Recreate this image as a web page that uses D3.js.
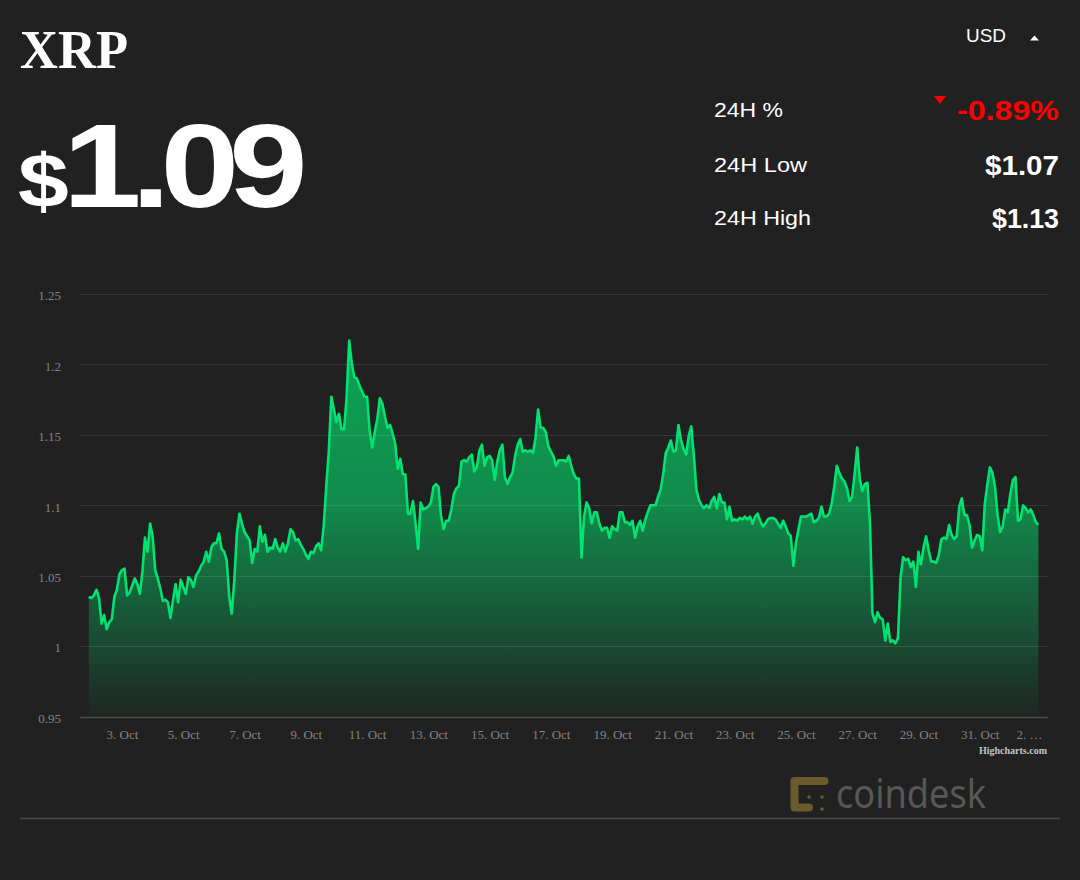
<!DOCTYPE html>
<html>
<head>
<meta charset="utf-8">
<script src="https://cdn.jsdelivr.net/npm/d3@7"></script>
<style>
  body { margin: 0; background: #212121; }
  svg { display: block; }
</style>
</head>
<body>
<div id="chart"></div>
<script>
const width = 1080;
const height = 880;
const plot = { left: 80, right: 1048, top: 294, bottom: 716.5 };

// XRP / USD, one reading every 2 hours from 1 Oct 22:00 UTC
const start_time = Date.UTC(2021, 9, 1, 22);
const step_hours = 2;
const prices = [
  1.035, 1.034, 1.036, 1.040, 1.034, 1.016, 1.022, 1.012, 1.017, 1.019,
  1.035, 1.040, 1.051, 1.054, 1.055, 1.036, 1.038, 1.043, 1.048, 1.044,
  1.037, 1.053, 1.077, 1.067, 1.087, 1.078, 1.054, 1.048, 1.041, 1.032,
  1.033, 1.031, 1.020, 1.033, 1.044, 1.031, 1.047, 1.042, 1.037, 1.049,
  1.047, 1.042, 1.050, 1.053, 1.057, 1.060, 1.067, 1.060, 1.070, 1.073,
  1.073, 1.080, 1.069, 1.067, 1.061, 1.035, 1.023, 1.047, 1.080, 1.094,
  1.087, 1.081, 1.078, 1.075, 1.059, 1.069, 1.067, 1.085, 1.074, 1.079,
  1.067, 1.070, 1.069, 1.076, 1.070, 1.067, 1.073, 1.067, 1.073, 1.083,
  1.081, 1.075, 1.076, 1.072, 1.069, 1.065, 1.062, 1.067, 1.066, 1.071,
  1.073, 1.068, 1.085, 1.113, 1.138, 1.177, 1.168, 1.159, 1.165, 1.154,
  1.154, 1.177, 1.217, 1.201, 1.191, 1.190, 1.185, 1.181, 1.177, 1.177,
  1.153, 1.141, 1.152, 1.161, 1.176, 1.172, 1.163, 1.155, 1.157, 1.151,
  1.144, 1.126, 1.133, 1.122, 1.122, 1.094, 1.094, 1.103, 1.087, 1.069,
  1.102, 1.097, 1.098, 1.099, 1.102, 1.113, 1.115, 1.113, 1.092, 1.083,
  1.089, 1.089, 1.097, 1.108, 1.112, 1.114, 1.131, 1.132, 1.131, 1.134,
  1.136, 1.124, 1.127, 1.139, 1.143, 1.128, 1.134, 1.135, 1.132, 1.118,
  1.131, 1.139, 1.143, 1.120, 1.115, 1.120, 1.123, 1.135, 1.143, 1.147,
  1.138, 1.139, 1.138, 1.139, 1.137, 1.148, 1.168, 1.155, 1.155, 1.152,
  1.142, 1.138, 1.135, 1.128, 1.132, 1.132, 1.132, 1.131, 1.135, 1.128,
  1.122, 1.119, 1.119, 1.063, 1.092, 1.102, 1.098, 1.087, 1.095, 1.095,
  1.087, 1.082, 1.084, 1.084, 1.077, 1.085, 1.083, 1.082, 1.095, 1.095,
  1.088, 1.088, 1.086, 1.089, 1.077, 1.085, 1.089, 1.082, 1.090, 1.095,
  1.100, 1.100, 1.100, 1.106, 1.111, 1.122, 1.137, 1.141, 1.146, 1.138,
  1.139, 1.157, 1.146, 1.140, 1.136, 1.149, 1.156, 1.136, 1.111, 1.104,
  1.100, 1.098, 1.100, 1.098, 1.103, 1.106, 1.098, 1.108, 1.102, 1.102,
  1.090, 1.099, 1.089, 1.090, 1.089, 1.091, 1.090, 1.092, 1.090, 1.092,
  1.087, 1.092, 1.094, 1.089, 1.085, 1.087, 1.090, 1.091, 1.091, 1.090,
  1.087, 1.084, 1.089, 1.085, 1.080, 1.078, 1.057, 1.073, 1.083, 1.092,
  1.092, 1.092, 1.093, 1.094, 1.088, 1.089, 1.091, 1.099, 1.092, 1.092,
  1.094, 1.101, 1.113, 1.128, 1.123, 1.119, 1.117, 1.112, 1.103, 1.106,
  1.122, 1.141, 1.119, 1.110, 1.115, 1.116, 1.088, 1.023, 1.017, 1.024,
  1.020, 1.019, 1.004, 1.016, 1.003, 1.004, 1.002, 1.006, 1.049, 1.063,
  1.061, 1.062, 1.056, 1.060, 1.042, 1.067, 1.058, 1.070, 1.078, 1.068,
  1.060, 1.060, 1.059, 1.065, 1.076, 1.077, 1.076, 1.086, 1.079, 1.076,
  1.078, 1.099, 1.105, 1.093, 1.093, 1.086, 1.070, 1.075, 1.079, 1.078,
  1.068, 1.101, 1.115, 1.127, 1.123, 1.113, 1.093, 1.081, 1.085, 1.097,
  1.095, 1.108, 1.118, 1.120, 1.089, 1.090, 1.100, 1.098, 1.095, 1.097,
  1.093, 1.088, 1.086
];

const y_ticks = [0.95, 1, 1.05, 1.1, 1.15, 1.2, 1.25];
const tick_dates = ['2021-10-03', '2021-10-05', '2021-10-07', '2021-10-09', '2021-10-11',
  '2021-10-13', '2021-10-15', '2021-10-17', '2021-10-19', '2021-10-21', '2021-10-23',
  '2021-10-25', '2021-10-27', '2021-10-29', '2021-10-31', '2021-11-02'];
const tick_labels = ['3. Oct', '5. Oct', '7. Oct', '9. Oct', '11. Oct', '13. Oct', '15. Oct',
  '17. Oct', '19. Oct', '21. Oct', '23. Oct', '25. Oct', '27. Oct', '29. Oct', '31. Oct', '2. …'];

const coin_name = 'XRP';
const currency = 'USD';
const current_price = '1.09';
const stat_labels = ['24H %', '24H Low', '24H High'];
const stat_values = ['-0.89%', '$1.07', '$1.13'];

const points = prices.map((p, i) => ({
  date: new Date(start_time + i * step_hours * 3600 * 1000),
  price: p
}));

const x_scale = d3.scaleUtc()
  .domain([new Date('2021-10-03T00:00:00Z'), new Date('2021-10-31T00:00:00Z')])
  .range([122, 979.7]);
const y_scale = d3.scaleLinear()
  .domain([0.95, 1.25])
  .range([plot.bottom, plot.top]);

const svg = d3.select('#chart')
  .append('svg')
    .attr('width', width)
    .attr('height', height);

svg.append('rect')
  .attr('width', width)
  .attr('height', height)
  .attr('fill', '#212121');

// gradient under the line
const grad = svg.append('defs').append('linearGradient')
  .attr('id', 'fill')
  .attr('gradientUnits', 'userSpaceOnUse')
  .attr('x1', 0).attr('x2', 0)
  .attr('y1', plot.top).attr('y2', plot.bottom);
[[0, '#06ad5a'], [0.12, '#0ca455'], [0.5, '#118a4a'], [0.82, '#194c33'], [1, '#1f2723']]
  .forEach(([o, c]) => grad.append('stop').attr('offset', o).attr('stop-color', c));

const area = d3.area()
  .x(d => x_scale(d.date))
  .y0(plot.bottom)
  .y1(d => y_scale(d.price));
const line = d3.line()
  .x(d => x_scale(d.date))
  .y(d => y_scale(d.price));

svg.append('path')
  .datum(points)
  .attr('d', area)
  .attr('fill', 'url(#fill)');

// gridlines
svg.append('g')
  .selectAll('line')
  .data(y_ticks)
  .join('line')
    .attr('x1', plot.left)
    .attr('x2', plot.right)
    .attr('y1', d => Math.round(y_scale(d)) + 0.5)
    .attr('y2', d => Math.round(y_scale(d)) + 0.5)
    .attr('stroke', d => d === 0.95 ? '#4c4c4c' : 'rgba(255,255,255,0.1)')
    .attr('stroke-width', d => d === 0.95 ? 1.5 : 1.2);

svg.append('path')
  .datum(points)
  .attr('d', line)
  .attr('fill', 'none')
  .attr('stroke', '#00e272')
  .attr('stroke-width', 2.6)
  .attr('stroke-linejoin', 'round');

// axes
svg.append('g')
  .attr('transform', 'translate(61,0)')
  .call(d3.axisLeft(y_scale)
    .tickValues(y_ticks)
    .tickFormat(d3.format(''))
    .tickSize(0)
    .tickPadding(0))
  .call(g => g.select('.domain').remove())
  .call(g => g.selectAll('text')
    .attr('dy', '0.45em')
    .attr('fill', '#838383')
    .style('font', '13px "Liberation Serif", serif'));

svg.append('g')
  .attr('transform', `translate(0,${plot.bottom})`)
  .call(d3.axisBottom(x_scale)
    .tickValues(tick_dates.map(d => new Date(d + 'T00:00:00Z')))
    .tickFormat((d, i) => tick_labels[i])
    .tickSize(0)
    .tickPadding(13))
  .call(g => g.select('.domain').remove())
  .call(g => g.selectAll('text')
    .attr('fill', '#838383')
    .style('font', '13px "Liberation Serif", serif'))
  .call(g => g.selectAll('.tick:last-of-type text')
    .attr('text-anchor', 'end')
    .attr('x', 1));

svg.append('text')
  .attr('x', 1047)
  .attr('y', 754)
  .attr('text-anchor', 'end')
  .attr('fill', '#c4c4c4')
  .style('font', 'bold 10px "Liberation Serif", serif')
  .text('Highcharts.com');

// header
svg.append('text')
  .attr('x', 20)
  .attr('y', 68)
  .attr('fill', '#fff')
  .attr('textLength', 108)
  .attr('lengthAdjust', 'spacingAndGlyphs')
  .style('font', 'bold 54px "Liberation Serif", serif')
  .text(coin_name);

const big = svg.append('text')
  .attr('transform', 'translate(18,207) scale(1.2,1)')
  .attr('fill', '#fff')
  .style('font-family', '"Liberation Sans", Arial, sans-serif')
  .style('font-weight', 'bold');
big.append('tspan')
  .attr('letter-spacing', -5)
  .style('font-size', '76px')
  .text('$');
big.append('tspan')
  .attr('letter-spacing', -8.5)
  .style('font-size', '118px')
  .text(current_price);

svg.append('text')
  .attr('x', 966)
  .attr('y', 42)
  .attr('fill', '#fff')
  .attr('textLength', 40)
  .attr('lengthAdjust', 'spacingAndGlyphs')
  .style('font', '18px "Liberation Sans", Arial, sans-serif')
  .text(currency);
svg.append('path')
  .attr('d', 'M1030,40.5L1039,40.5L1034.5,35.5Z')
  .attr('fill', '#fff');

const label_y = [117, 172, 225];
const label_len = [69, 93, 97];
const value_len = [102, 74, 67];

svg.append('g')
  .selectAll('text')
  .data(stat_labels)
  .join('text')
    .attr('x', 714)
    .attr('y', (d, i) => label_y[i])
    .attr('fill', '#fff')
    .attr('textLength', (d, i) => label_len[i])
    .attr('lengthAdjust', 'spacingAndGlyphs')
    .style('font', '20px "Liberation Sans", Arial, sans-serif')
    .text(d => d);

svg.append('g')
  .selectAll('text')
  .data(stat_values)
  .join('text')
    .attr('x', 1059)
    .attr('y', (d, i) => label_y[i] + 3)
    .attr('text-anchor', 'end')
    .attr('fill', d => d.startsWith('-') ? '#ff0000' : '#fff')
    .attr('textLength', (d, i) => value_len[i])
    .attr('lengthAdjust', 'spacingAndGlyphs')
    .style('font', 'bold 27px "Liberation Sans", Arial, sans-serif')
    .text(d => d);

svg.append('path')
  .attr('d', 'M934,96L946,96L940,104Z')
  .attr('fill', '#ff0000');

// coindesk footer
const logo = svg.append('g').attr('fill', '#6b5a2c').attr('stroke', '#6b5a2c');
logo.append('path')
  .attr('d', 'M794.5,781H824.5M794.5,781V807.5H809')
  .attr('fill', 'none')
  .attr('stroke-width', 8)
  .attr('stroke-linecap', 'round')
  .attr('stroke-linejoin', 'round');
[[809, 797], [822, 797], [822, 809]].forEach(([cx, cy]) =>
  logo.append('circle').attr('cx', cx).attr('cy', cy).attr('r', 1.8).attr('stroke', 'none'));

svg.append('text')
  .attr('x', 836)
  .attr('y', 808)
  .attr('fill', '#575757')
  .attr('textLength', 150)
  .attr('lengthAdjust', 'spacingAndGlyphs')
  .style('font', '40px "Noto Sans", sans-serif')
  .text('coindesk');

svg.append('line')
  .attr('x1', 20).attr('x2', 1060)
  .attr('y1', 818.5).attr('y2', 818.5)
  .attr('stroke', '#4d4d4d')
  .attr('stroke-width', 1.5);
</script>
</body>
</html>
